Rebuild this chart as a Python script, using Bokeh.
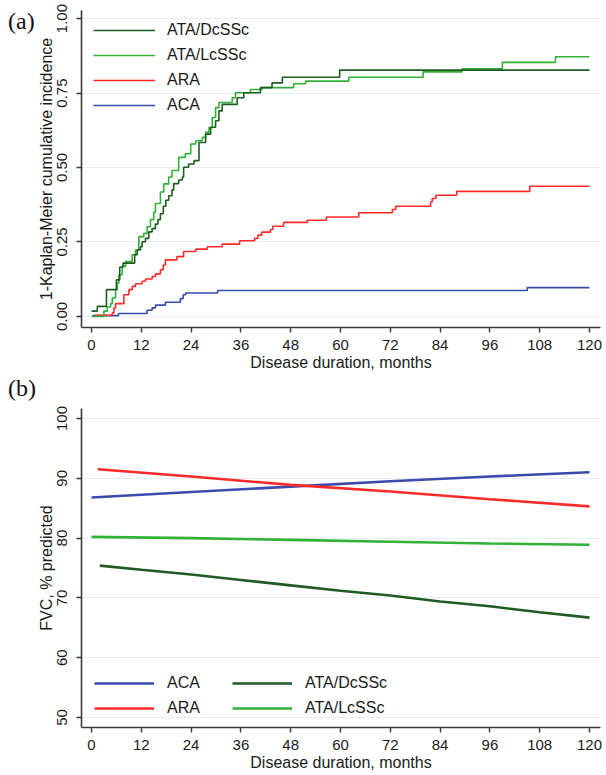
from bokeh.plotting import figure
from bokeh.layouts import column
from bokeh.models import Range1d, FixedTicker, Legend, LegendItem, Div, NumeralTickFormatter
from bokeh.embed import file_html
from bokeh.resources import INLINE

# ---------------- Panel (a): 1 - Kaplan-Meier cumulative incidence ----------------
dc_t = [0, 1.4, 3.6, 6.0, 6.8, 7.6, 10.4, 11.0, 11.8, 12.2, 13.0, 13.8, 14.6, 15.4, 16.0,
        16.6, 17.3, 17.9, 18.6, 19.4, 19.8, 21.0, 21.9, 22.2, 23.4, 24.7, 25.9, 27.5, 28.7,
        29.9, 30.7, 31.5, 35.1, 36.7, 40.7, 43.5, 46.0, 59.8, 120]
dc_v = [0.018, 0.034, 0.09, 0.123, 0.166, 0.179, 0.207, 0.223, 0.234, 0.251, 0.262, 0.284,
        0.295, 0.31, 0.325, 0.345, 0.37, 0.39, 0.405, 0.425, 0.446, 0.458, 0.468, 0.501,
        0.512, 0.523, 0.584, 0.612, 0.635, 0.657, 0.69, 0.712, 0.734, 0.751, 0.768, 0.784,
        0.803, 0.827, 0.827]

lc_t = [0, 3.0, 3.8, 4.6, 5.0, 5.8, 6.2, 6.6, 7.4, 8.2, 9.8, 10.6, 11.4, 12.6, 13.4, 14.2,
        15.0, 15.4, 16.6, 17.4, 18.6, 19.4, 21.0, 22.6, 23.9, 25.1, 26.7, 27.5, 28.3, 29.1,
        29.9, 30.7, 33.9, 34.7, 38.3, 41.1, 48.7, 51.6, 62.0, 79.9, 89.3, 99.0, 111.8, 120]
lc_v = [0.0, 0.018, 0.032, 0.043, 0.062, 0.09, 0.112, 0.14, 0.168, 0.184, 0.207, 0.223,
        0.268, 0.279, 0.301, 0.325, 0.35, 0.379, 0.418, 0.445, 0.468, 0.49, 0.534, 0.546,
        0.579, 0.59, 0.601, 0.618, 0.634, 0.668, 0.701, 0.718, 0.734, 0.751, 0.762, 0.768,
        0.781, 0.79, 0.803, 0.821, 0.831, 0.853, 0.872, 0.872]

ara_t = [1.0, 5.0, 5.4, 5.8, 7.8, 9.0, 9.8, 10.6, 12.2, 13.0, 14.6, 15.4, 16.6, 17.3, 17.8,
         20.6, 22.2, 25.1, 27.9, 31.5, 35.7, 39.3, 40.1, 41.0, 43.1, 43.7, 46.3, 52.0, 56.6,
         64.4, 72.5, 73.3, 81.7, 82.1, 83.0, 88.0, 105.6, 120]
ara_v = [0.004, 0.012, 0.029, 0.043, 0.073, 0.09, 0.101, 0.11, 0.118, 0.126, 0.134, 0.143,
         0.157, 0.173, 0.19, 0.201, 0.218, 0.226, 0.234, 0.243, 0.254, 0.262, 0.273, 0.283,
         0.292, 0.303, 0.316, 0.323, 0.334, 0.348, 0.359, 0.37, 0.384, 0.396, 0.407, 0.42,
         0.437, 0.437]

aca_t = [0.2, 6.5, 13.4, 14.6, 15.4, 17.8, 21.4, 22.1, 22.7, 30.4, 105.0, 120]
aca_v = [0.003, 0.01, 0.021, 0.029, 0.038, 0.048, 0.06, 0.073, 0.079, 0.087, 0.097, 0.097]

# ---------------- Panel (b): FVC, % predicted ----------------
fvc_aca_x = [0, 24, 48, 72, 96, 120]
fvc_aca_y = [86.8, 87.7, 88.6, 89.5, 90.3, 91.0]
fvc_ara_x = [1.5, 24, 48, 72, 96, 120]
fvc_ara_y = [91.5, 90.3, 88.9, 87.8, 86.5, 85.3]
fvc_lc_x = [0, 24, 48, 72, 96, 120]
fvc_lc_y = [80.2, 80.0, 79.7, 79.4, 79.1, 78.9]
fvc_dc_x = [2, 12, 24, 36, 48, 60, 72, 84, 96, 108, 120]
fvc_dc_y = [75.4, 74.7, 73.9, 73.0, 72.1, 71.2, 70.4, 69.4, 68.6, 67.6, 66.7]

x_ticks = [0, 12, 24, 36, 48, 60, 72, 84, 96, 108, 120]
y_ticks_a = [0, 0.25, 0.5, 0.75, 1.0]
y_ticks_b = [50, 60, 70, 80, 90, 100]

C_DC = "#1f5c22"
C_LC = "#30b236"
C_ARA = "#ff2a2a"
C_ACA = "#3a4aae"
FONT = "Liberation Sans"
GRID = "#e6eff2"
AX = "#3a3a3a"


def style(p, yticks):
    p.background_fill_color = "white"
    p.border_fill_color = "white"
    p.outline_line_color = None
    p.xgrid.visible = False
    p.ygrid.grid_line_color = GRID
    p.ygrid.grid_line_width = 1.2
    p.xaxis.ticker = FixedTicker(ticks=x_ticks)
    p.yaxis.ticker = FixedTicker(ticks=yticks)
    for ax in (p.xaxis[0], p.yaxis[0]):
        ax.axis_line_color = AX
        ax.axis_line_width = 1.6
        ax.major_tick_line_color = AX
        ax.major_tick_line_width = 1.4
        ax.major_tick_out = 5
        ax.major_tick_in = 0
        ax.minor_tick_line_color = None
        ax.major_label_text_font = FONT
        ax.major_label_text_font_size = "15px"
        ax.major_label_text_color = "#1a1a1a"
        ax.axis_label_text_font = FONT
        ax.axis_label_text_font_size = "16px"
        ax.axis_label_text_font_style = "normal"
        ax.axis_label_text_color = "#1a1a1a"
    p.xaxis.major_label_standoff = 7
    p.xaxis.axis_label_standoff = 1
    p.yaxis.major_label_standoff = 9
    p.yaxis.axis_label_standoff = 0
    p.yaxis.major_label_orientation = "vertical"
    p.xaxis.axis_label = "Disease duration, months"


X0, X1 = -2.41, 122.65

# ---------- figure (a) ----------
pa = figure(width=606, height=373, output_backend="svg", toolbar_location=None,
            x_range=Range1d(X0, X1), y_range=Range1d(-0.037, 1.027),
            min_border_left=81, min_border_right=6, min_border_top=10, min_border_bottom=45)
style(pa, y_ticks_a)
pa.yaxis.axis_label = "1-Kaplan-Meier cumulative incidence"
pa.yaxis.formatter = NumeralTickFormatter(format="0.00")

r_aca = pa.step(aca_t, aca_v, mode="after", line_color=C_ACA, line_width=1.6)
r_ara = pa.step(ara_t, ara_v, mode="after", line_color=C_ARA, line_width=1.6)
r_lc = pa.step(lc_t, lc_v, mode="after", line_color=C_LC, line_width=1.6)
r_dc = pa.step(dc_t, dc_v, mode="after", line_color=C_DC, line_width=1.6)

leg_a = Legend(items=[LegendItem(label="ATA/DcSSc", renderers=[r_dc]),
                      LegendItem(label="ATA/LcSSc", renderers=[r_lc]),
                      LegendItem(label="ARA", renderers=[r_ara]),
                      LegendItem(label="ACA", renderers=[r_aca])],
               location=(12, 212), padding=0, margin=0, spacing=5,
               glyph_width=62, glyph_height=20, label_standoff=12,
               label_text_font=FONT, label_text_font_size="16px", label_text_color="#1a1a1a",
               border_line_color=None, background_fill_alpha=0.0)
pa.add_layout(leg_a)

# ---------- figure (b) ----------
pb = figure(width=606, height=401, output_backend="svg", toolbar_location=None,
            x_range=Range1d(X0, X1), y_range=Range1d(48.33, 101.67),
            min_border_left=81, min_border_right=6, min_border_top=35, min_border_bottom=47)
style(pb, y_ticks_b)
pb.yaxis.axis_label = "FVC, % predicted"

b_aca = pb.line(fvc_aca_x, fvc_aca_y, line_color=C_ACA, line_width=2.6)
b_ara = pb.line(fvc_ara_x, fvc_ara_y, line_color=C_ARA, line_width=2.6)
b_dc = pb.line(fvc_dc_x, fvc_dc_y, line_color=C_DC, line_width=2.6)
b_lc = pb.line(fvc_lc_x, fvc_lc_y, line_color=C_LC, line_width=2.6)

leg_b = Legend(items=[LegendItem(label="ACA", renderers=[b_aca]),
                      LegendItem(label="ARA", renderers=[b_ara]),
                      LegendItem(label="ATA/DcSSc", renderers=[b_dc]),
                      LegendItem(label="ATA/LcSSc", renderers=[b_lc])],
               location=(13, 9), padding=0, margin=0, spacing=5, ncols=2,
               glyph_width=60, glyph_height=20, label_standoff=13, label_width=60,
               label_text_font=FONT, label_text_font_size="16px", label_text_color="#1a1a1a",
               border_line_color=None, background_fill_alpha=0.0)
pb.add_layout(leg_b)

# panel labels (a) and (b), overlaid at the left edge of the page
lab_style = {"position": "absolute", "left": "3px", "z-index": "10",
             "font-family": "Liberation Serif", "font-size": "24px",
             "color": "#111111", "line-height": "1.1"}
div_a = Div(text="(a)", styles=dict(lab_style, top="3px"))
div_b = Div(text="(b)", styles=dict(lab_style, top="370px"))

layout = column(pa, pb, div_a, div_b, spacing=0)
open("out.html", "w").write(file_html(layout, INLINE))
